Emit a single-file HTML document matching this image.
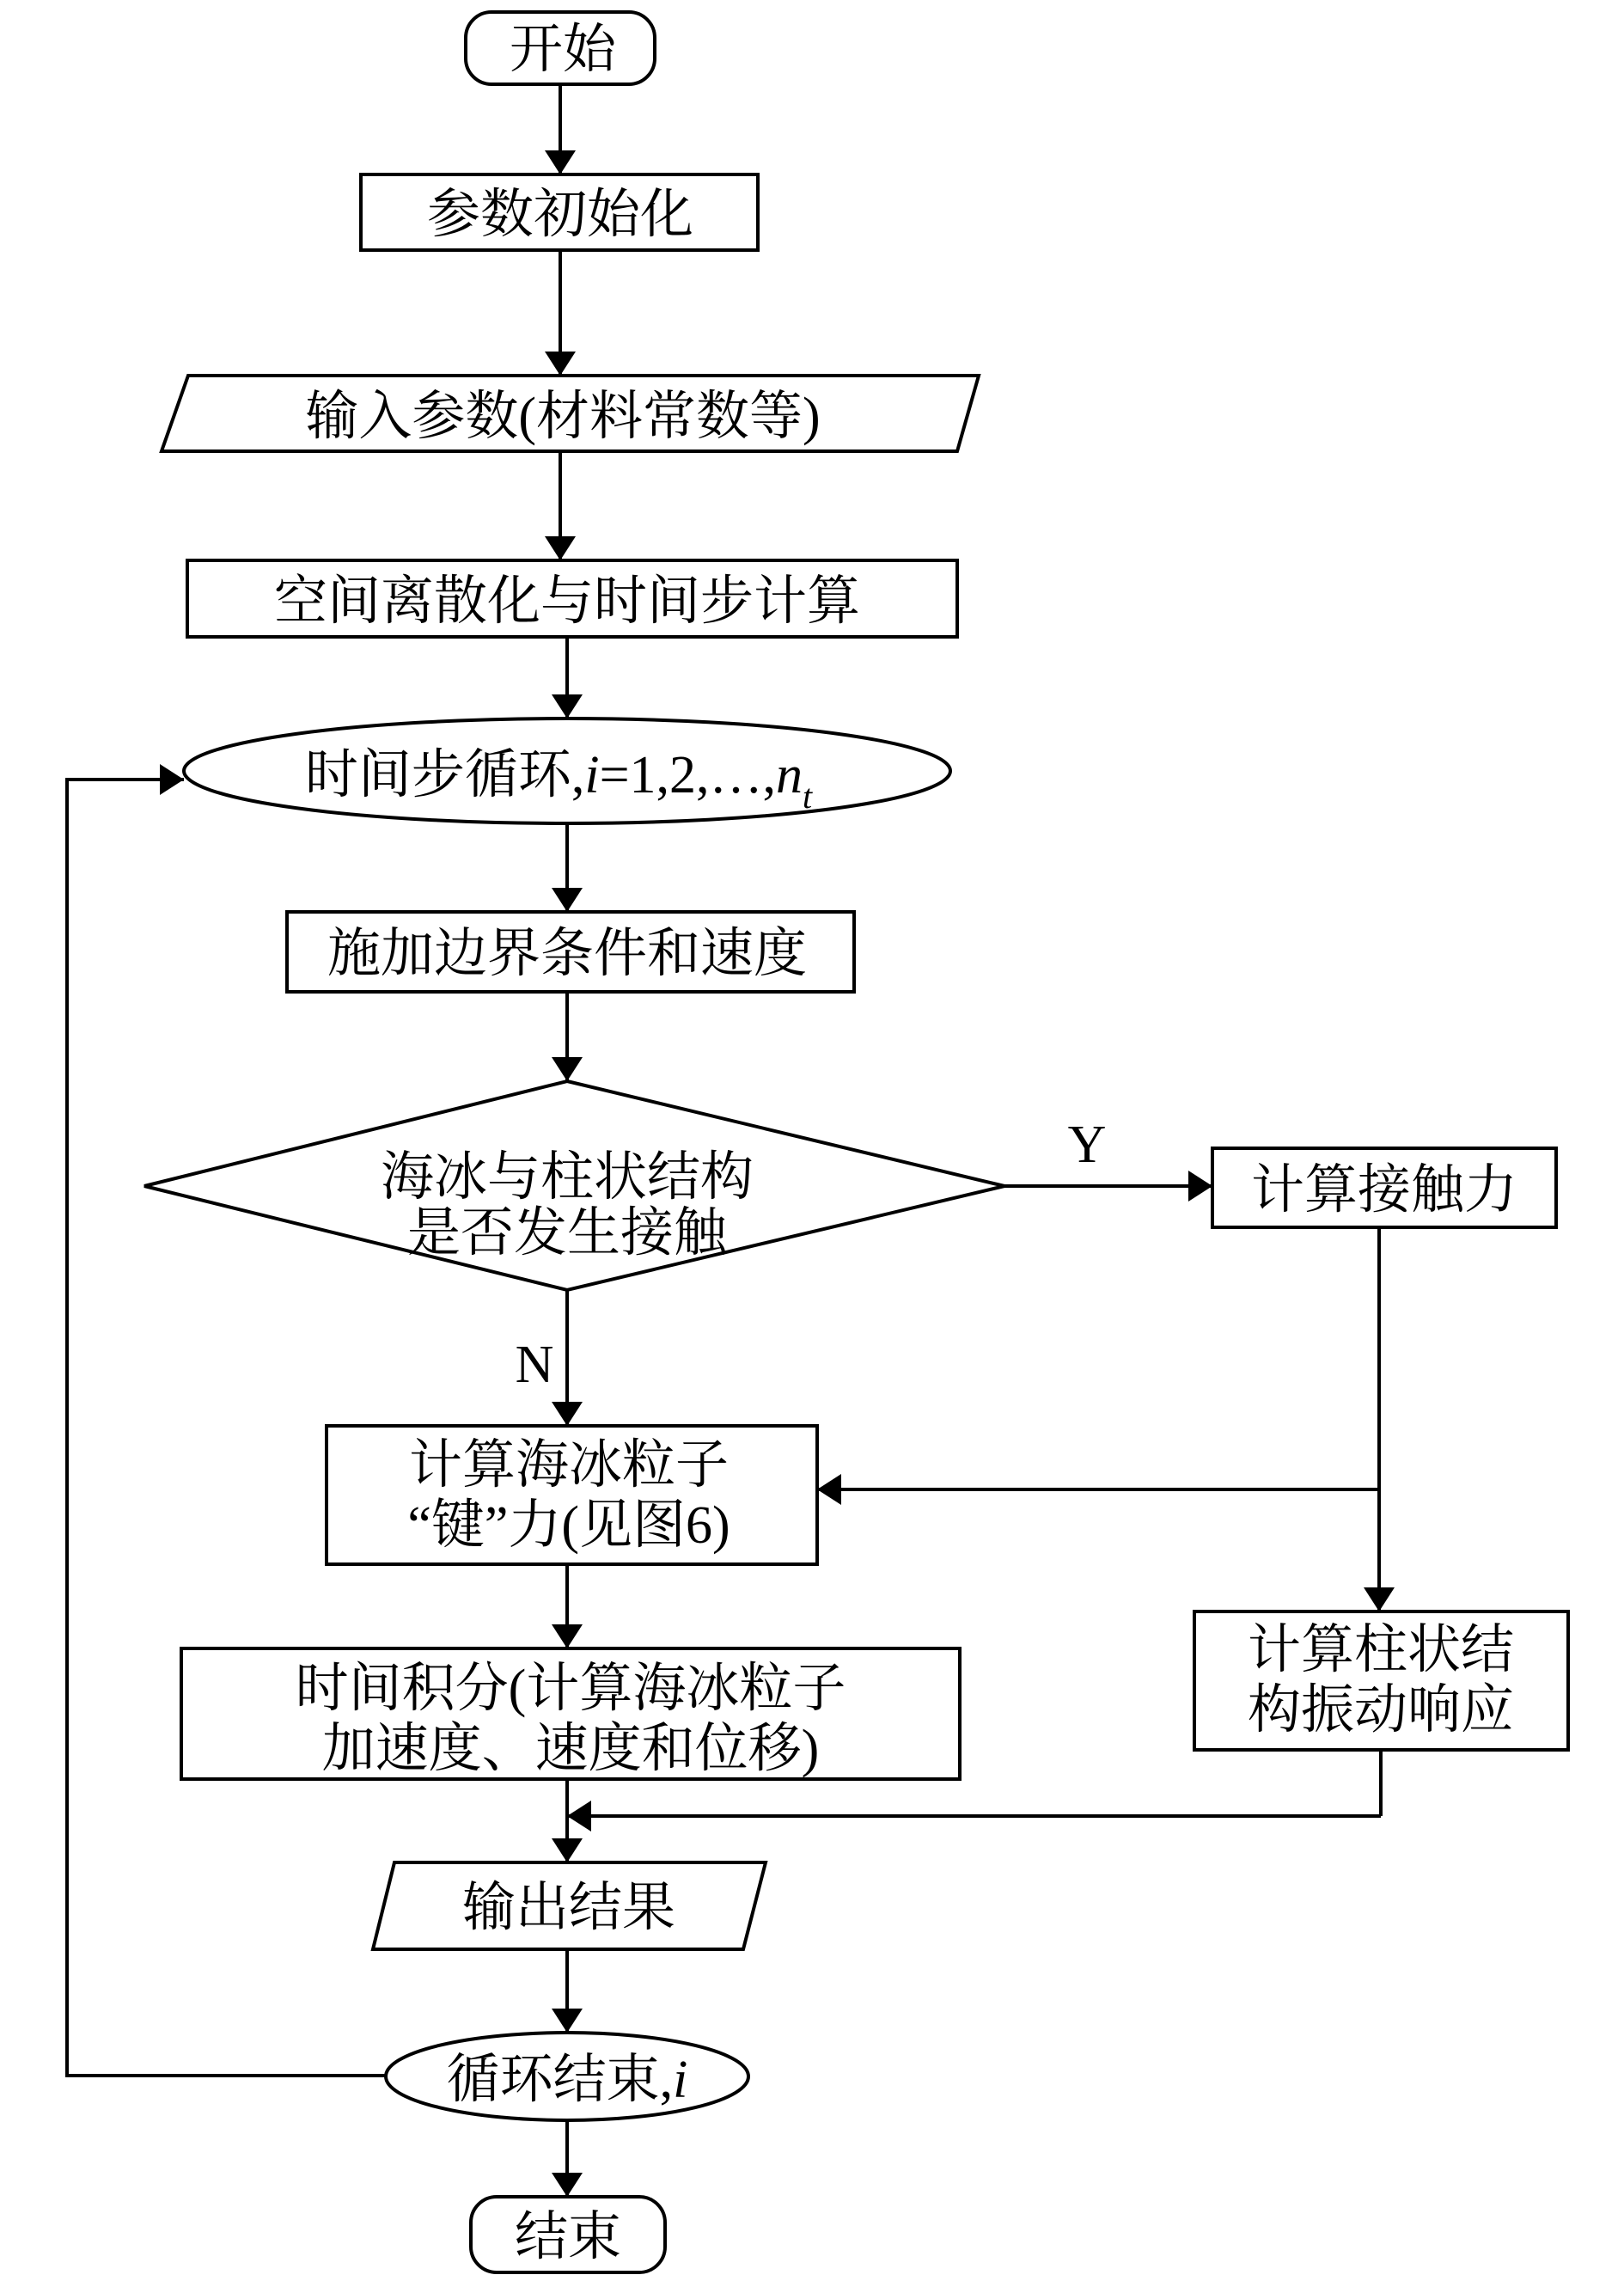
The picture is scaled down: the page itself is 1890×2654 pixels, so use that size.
<!DOCTYPE html>
<html><head><meta charset="utf-8"><style>
html,body{margin:0;padding:0;background:#fff;}
svg{display:block;}
text{font-family:"Liberation Serif","Noto Serif CJK SC",serif;font-size:62px;fill:#000;}
</style></head><body>
<svg width="1890" height="2654" viewBox="0 0 1890 2654" xmlns="http://www.w3.org/2000/svg">
<defs>
<marker id="a" viewBox="0 0 10 10" refX="10" refY="5" markerWidth="7" markerHeight="9" markerUnits="strokeWidth" orient="auto-start-reverse" preserveAspectRatio="none">
<path d="M0,0 L10,5 L0,10 z" fill="#000"/>
</marker>
</defs>
<g fill="none" stroke="#000" stroke-width="4">
<!-- start -->
<rect x="542" y="14" width="220" height="84" rx="30"/>
<rect x="420" y="203" width="462" height="88"/>
<polygon points="219,437 1139,437 1114,525 188,525"/>
<rect x="218" y="652" width="896" height="89"/>
<ellipse cx="660" cy="897" rx="446" ry="61"/>
<rect x="334" y="1061" width="660" height="93"/>
<polygon points="660,1258 1169,1380 660,1501 168,1380"/>
<rect x="1411" y="1336" width="400" height="92"/>
<rect x="380" y="1659" width="571" height="161"/>
<rect x="1390" y="1875" width="435" height="161"/>
<rect x="211" y="1918" width="906" height="152"/>
<polygon points="459,2167 891,2167 865,2268 434,2268"/>
<ellipse cx="660" cy="2416" rx="211" ry="51"/>
<rect x="548" y="2556" width="226" height="88" rx="30"/>
</g>
<g fill="none" stroke="#000" stroke-width="4" marker-end="url(#a)">
<line x1="652" y1="98" x2="652" y2="203"/>
<line x1="652" y1="291" x2="652" y2="437"/>
<line x1="652" y1="525" x2="652" y2="652"/>
<line x1="660" y1="741" x2="660" y2="836"/>
<line x1="660" y1="958" x2="660" y2="1061"/>
<line x1="660" y1="1154" x2="660" y2="1258"/>
<line x1="1169" y1="1380" x2="1411" y2="1380"/>
<line x1="660" y1="1501" x2="660" y2="1659"/>
<line x1="1605" y1="1428" x2="1605" y2="1875"/>
<line x1="1605" y1="1733" x2="951" y2="1733"/>
<line x1="660" y1="1820" x2="660" y2="1918"/>
<line x1="1607" y1="2036" x2="1607" y2="2113" marker-end="none"/>
<line x1="1607" y1="2113" x2="660" y2="2113"/>
<line x1="660" y1="2070" x2="660" y2="2167"/>
<line x1="660" y1="2268" x2="660" y2="2365"/>
<line x1="660" y1="2467" x2="660" y2="2556"/>
<polyline points="449,2415 78,2415 78,907 214,907"/>
</g>
<g text-anchor="middle">
<text x="655" y="78">开始</text>
<text x="652" y="270">参数初始化</text>
<text x="655" y="505">输入参数(材料常数等)</text>
<text x="660" y="720">空间离散化与时间步计算</text>
<text x="650" y="922">时间步循环,<tspan font-style="italic">i</tspan>=1,2,…,<tspan font-style="italic">n</tspan><tspan font-style="italic" font-size="40" dy="18">t</tspan></text>
<text x="660" y="1130">施加边界条件和速度</text>
<text x="660" y="1390">海冰与柱状结构</text>
<text x="660" y="1455">是否发生接触</text>
<text x="1265" y="1352">Y</text>
<text x="622" y="1608">N</text>
<text x="1611" y="1405">计算接触力</text>
<text x="662" y="1725">计算海冰粒子</text>
<text x="662" y="1795">“键”力(见图6)</text>
<text x="1607" y="1940">计算柱状结</text>
<text x="1607" y="2010">构振动响应</text>
<text x="664" y="1985">时间积分(计算海冰粒子</text>
<text x="664" y="2055">加速度、速度和位移)</text>
<text x="662" y="2240">输出结果</text>
<text x="660" y="2440">循环结束,<tspan font-style="italic">i</tspan></text>
<text x="661" y="2623">结束</text>
</g>
</svg>
</body></html>
